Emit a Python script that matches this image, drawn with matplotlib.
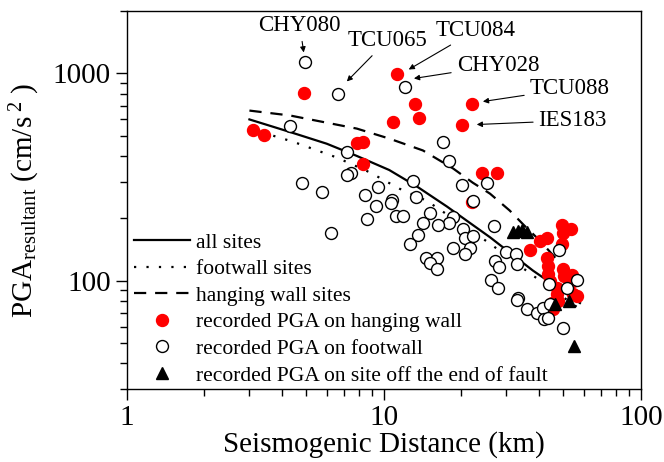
import numpy as np
import matplotlib
matplotlib.use("Agg")
import matplotlib.pyplot as plt
from matplotlib.ticker import FuncFormatter, NullFormatter

plt.rcParams['font.family'] = ['Liberation Serif', 'DejaVu Serif']
plt.rcParams['mathtext.fontset'] = 'custom'
plt.rcParams['mathtext.rm'] = 'Liberation Serif'
plt.rcParams['mathtext.it'] = 'Liberation Serif:italic'

# regression curves (distance km, PGA cm/s^2)
all_x = [3.0, 4.31, 6.0, 7.85, 10.5, 13.5, 17.6, 25.9, 38.0, 58.0]
all_y = [600, 522, 458, 400, 342, 284, 228, 162, 112, 78]

foot_x = [3.0, 4.42, 6.56, 8.83, 11.5, 14.7, 25.9, 38.0, 57.0]
foot_y = [542, 469, 393, 333, 278, 243, 151, 106, 74]

hang_x = [3.0, 4.31, 7.85, 10.5, 14.2, 18.6, 22.2, 25.9, 30.9, 35.3, 40.5, 48.4, 58.0]
hang_y = [662, 627, 542, 485, 425, 348, 297, 263, 218, 184, 156, 122, 80]

# recorded PGA on hanging wall
hw_x = [3.09, 3.41, 4.88, 11.3, 13.2, 13.7, 10.9, 22.0, 20.1, 7.85, 8.28, 8.28,
        24.1, 27.5, 22.0, 49.3, 53.4, 49.7, 43.1, 40.5, 49.3, 37.0, 43.1, 43.5,
        49.7, 43.5, 50.2, 53.9, 54.4, 44.3, 54.4, 56.4, 47.1, 47.5, 45.5, 45.1, 47.1]
hw_y = [536, 507, 809, 989, 716, 613, 580, 716, 561, 464, 469, 367,
        329, 329, 241, 186, 178, 169, 161, 156, 151, 141, 128, 118,
        114, 108, 105, 106, 100, 100, 86.6, 84.7, 86.6, 80, 73.2, 78.3, 92.5]

# recorded PGA on footwall
fw_x = [4.93, 6.62, 12.1, 4.31, 7.18, 7.44, 7.18, 4.80, 5.74, 8.44, 9.48, 10.8,
        9.31, 10.7, 13.0, 13.4, 8.59, 6.22, 11.2, 11.9, 15.1, 17.0, 17.9, 18.6,
        17.9, 16.2, 14.2, 13.6, 12.7, 14.6, 16.1, 15.1, 16.1, 20.1, 25.2, 22.2,
        26.8, 20.3, 20.7, 22.2, 21.6, 20.7, 18.6, 29.8, 32.6, 32.9, 27.0, 28.0,
        26.1, 27.8, 33.2, 32.9, 36.0, 39.4, 41.6, 42.0, 43.5, 44.3, 43.9, 48.0,
        51.5, 56.4, 49.7]
fw_y = [1130, 800, 865, 555, 420, 329, 322, 297, 269, 260, 284, 246,
        228, 238, 304, 252, 199, 169, 206, 206, 213, 469, 380, 202,
        189, 186, 189, 167, 151, 129, 128, 122, 114, 288, 297, 243,
        184, 178, 160, 165, 144, 135, 144, 137, 135, 121, 125, 116,
        101, 92.5, 82.8, 81, 73.2, 70, 74, 65.5, 66.3, 77.4, 96.8, 141,
        92.5, 101, 59.3]

# recorded PGA on sites off the end of fault
end_x = [31.8, 33.2, 34.4, 36.0, 46.3, 52.5, 54.9]
end_y = [171, 174, 176, 171, 77.4, 80, 48.5]

# station labels
stations = ["CHY080", "TCU065", "TCU084", "CHY028", "TCU088", "IES183"]
st_x = [4.88, 7.18, 12.5, 13.1, 24.3, 23.0]
st_y = [1263, 915, 1045, 946, 732, 567]
lab_x = [4.71, 10.3, 22.8, 27.8, 52.9, 54.4]
lab_y = [1706, 1443, 1614, 1093, 846, 593]

fig = plt.figure(figsize=(6.64, 4.62), dpi=100)
ax = fig.add_axes([0.191, 0.158, 0.774, 0.818])

ax.plot(all_x, all_y, color='black', lw=1.6, ls='-', label='all sites', zorder=2)
ax.plot(foot_x, foot_y, color='black', lw=1.6, ls=(0, (1, 4.6)), label='footwall sites', zorder=2)
ax.plot(hang_x, hang_y, color='black', lw=1.6, ls=(0, (5.5, 4.0)), label='hanging wall sites', zorder=2)

ax.plot(hw_x, hw_y, 'o', color='#ff0000', mec='#ff0000', ms=8.6,
        label='recorded PGA on hanging wall', zorder=3)
ax.plot(fw_x, fw_y, 'o', mfc='white', mec='black', mew=1.0, ms=8.6,
        label='recorded PGA on footwall', zorder=4)
ax.plot(end_x, end_y, '^', color='black', ms=9,
        label='recorded PGA on site off the end of fault', zorder=5)

for name, px, py, tx, ty in zip(stations, st_x, st_y, lab_x, lab_y):
    ax.annotate(name, xy=(px, py), xytext=(tx, ty), ha='center', va='center',
                fontsize=16.5,
                arrowprops=dict(arrowstyle='-|>', color='black', lw=0.8,
                                mutation_scale=8, shrinkA=2, shrinkB=0))

ax.set_xscale('log')
ax.set_yscale('log')
ax.set_xlim(1, 100)
ax.set_ylim(30, 2000)

fmt = FuncFormatter(lambda v, p: f'{v:g}')
ax.xaxis.set_major_formatter(fmt)
ax.yaxis.set_major_formatter(fmt)
ax.xaxis.set_minor_formatter(NullFormatter())
ax.yaxis.set_minor_formatter(NullFormatter())
ax.tick_params(which='both', direction='out', top=False, right=False,
               labelsize=21, width=1.0)
ax.tick_params(which='major', length=8)
ax.tick_params(which='minor', length=5)
for s in ax.spines.values():
    s.set_linewidth(1.0)

ax.set_xlabel('Seismogenic Distance (km)', fontsize=21, labelpad=0)
ax.set_ylabel(r'PGA$_{\mathrm{resultant}}$ (cm/s$^{\ 2}$ )', fontsize=21, labelpad=8)

ax.legend(loc='lower left', bbox_to_anchor=(-0.012, -0.025), frameon=False,
          fontsize=15.5, handlelength=2.6, handletextpad=0.3, labelspacing=0.30,
          borderaxespad=0.2)

fig.savefig('out.png', dpi=100)
